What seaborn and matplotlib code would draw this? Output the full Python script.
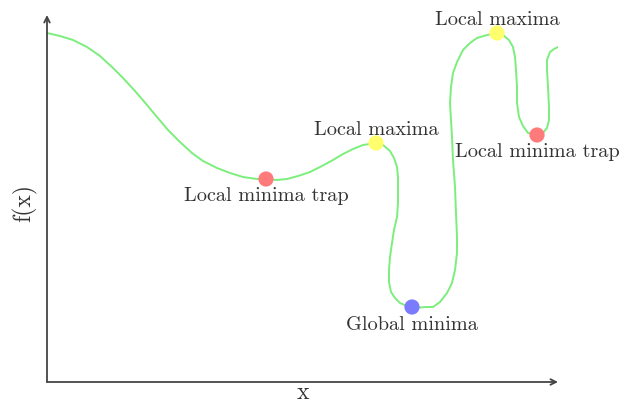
import matplotlib
matplotlib.use("Agg")
import matplotlib.pyplot as plt
import numpy as np
import pandas as pd
import seaborn as sns

# curve (x right, y up), traced in drawing order
curve_x = [0, 13, 26, 40, 53, 65, 76, 88, 100, 110, 121, 133, 145, 156, 170,
           183, 196, 210, 219, 230, 240, 251, 263, 275, 286, 296, 306, 316, 329,
           336, 343, 347, 350, 351, 351, 351, 350, 347, 345, 343, 342, 342, 344,
           348, 353, 360, 365, 373, 379, 386, 393, 400, 405, 408, 410, 410, 409,
           408, 406, 405, 404, 403, 404, 406, 410, 416, 423, 430, 440, 450, 456,
           462, 466, 468, 469, 470, 470, 472, 476, 481, 490, 496, 500, 502, 502,
           501, 500, 500, 503, 507, 511]
curve_y = [349, 346, 342, 335, 326, 315, 304, 291, 277, 265, 252, 240, 229, 221, 214,
           209, 205, 203, 203, 202, 203, 206, 210, 216, 222, 228, 233, 237, 239,
           237, 231, 224, 215, 205, 192, 179, 165, 152, 139, 125, 112, 100, 90,
           84, 79, 76, 75, 74.5, 75, 75, 80, 89, 99, 112, 129, 145, 169,
           195, 222, 245, 262, 279, 295, 309, 320, 332, 339, 344, 347, 349, 347,
           342, 335, 325, 312, 295, 279, 265, 256, 249, 247, 249, 254, 262, 275,
           295, 312, 322, 330, 333, 335]

# marked points
pt_x = [219, 329, 365, 450, 490]
pt_y = [203, 239, 75, 349, 247]
pt_kind = ["trap", "max", "global", "max", "trap"]
pt_label = ["Local minima trap", "Local maxima", "Global minima",
            "Local maxima", "Local minima trap"]

sns.set_style("white")
plt.rcParams["font.family"] = ["cmr10", "DejaVu Serif"]
plt.rcParams["axes.formatter.use_mathtext"] = True

fig = plt.figure(figsize=(6.21, 4.04), dpi=100)
ax = fig.add_axes([47 / 621, 1 - 382 / 404, 511 / 621, 367 / 404])
ax.set_xlim(0, 511)
ax.set_ylim(0, 367)
ax.axis("off")

sns.lineplot(x=curve_x, y=curve_y, sort=False, estimator=None, color="#7cee7c",
             lw=1.4, ax=ax, zorder=2)

pal = {"trap": "#ff7b7b", "max": "#ffff6e", "global": "#7b7bff"}
sns.scatterplot(x=pt_x, y=pt_y, hue=pt_kind, palette=pal, s=120, linewidth=0,
                legend=False, ax=ax, zorder=3)

offs = {"trap": -15.5, "max": 5.5, "global": -16.5}
for x, y, k, lab in zip(pt_x, pt_y, pt_kind, pt_label):
    ax.annotate(lab, xy=(x, y), xytext=(0, offs[k]), textcoords="offset points",
                ha="center", va="baseline", fontsize=14.6, color="#333333")

# axes with arrow heads
arr = dict(arrowstyle="->", color="#444444", lw=1.3, shrinkA=0, shrinkB=0,
           mutation_scale=10)
ax.annotate("", xy=(511, 0), xytext=(0, 0), arrowprops=arr, annotation_clip=False)
ax.annotate("", xy=(0, 367), xytext=(0, 0), arrowprops=arr, annotation_clip=False)

fig.text(303 / 621, 1 - 393 / 404, "x", ha="center", va="center",
         fontsize=17, color="#333333")
fig.text(25 / 621, 1 - 203 / 404, "f(x)", ha="center", va="center",
         rotation=90, fontsize=17, color="#333333")

fig.savefig("out.png", dpi=100)
